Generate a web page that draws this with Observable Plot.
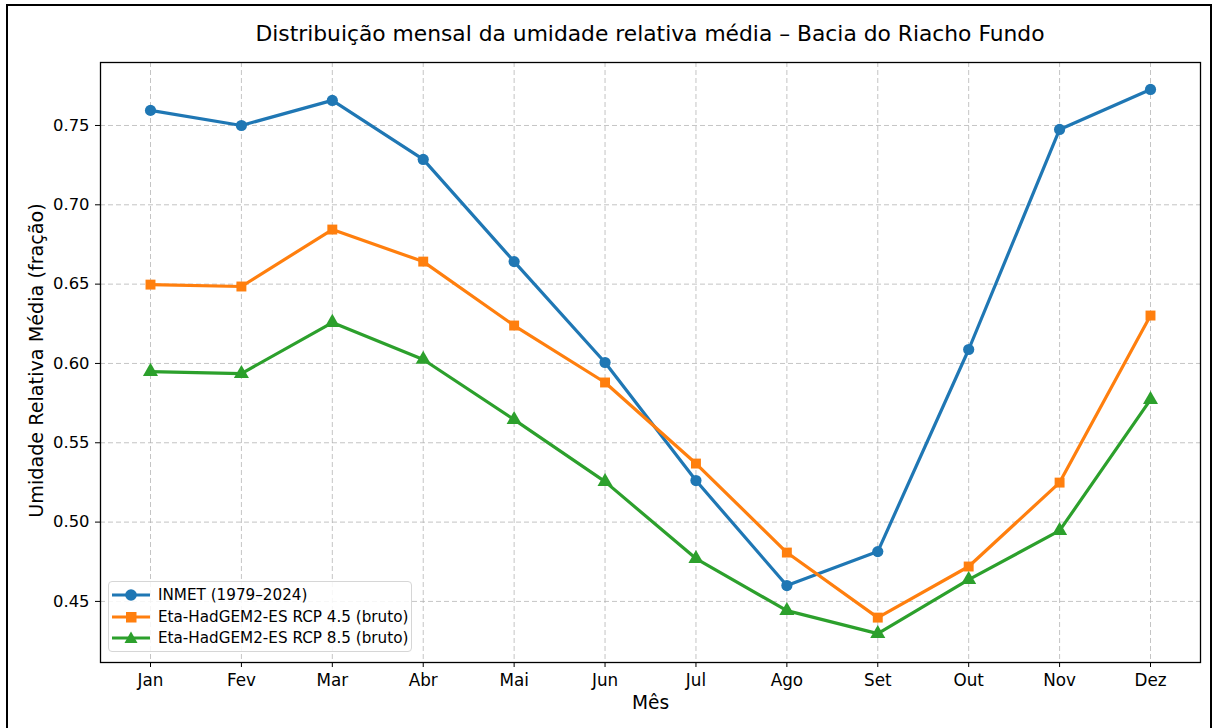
<!DOCTYPE html>
<html>
<head>
<meta charset="utf-8">
<script src="https://cdn.jsdelivr.net/npm/d3@7"></script>
<script src="https://cdn.jsdelivr.net/npm/@observablehq/plot@0.6"></script>
<style>
  html, body { margin: 0; padding: 0; background: #fff; }
  #fig { position: relative; width: 1220px; height: 728px; overflow: hidden; font-family: "DejaVu Sans", sans-serif; }
  #border { position: absolute; left: 6px; top: 4px; width: 1206px; height: 726px; border: 2px solid #000; box-sizing: border-box; pointer-events: none; }
  #title { position: absolute; left: 0; top: 21px; width: 1300px; text-align: center; font-size: 21.8px; color: #000; line-height: 26px; }
  #chart { position: absolute; left: 0; top: 0; }
  #legend { position: absolute; left: 108px; top: 581px; width: 304px; height: 71px; border: 1px solid #d6d6d6; border-radius: 4px; background: rgba(255,255,255,0.85); box-sizing: border-box; }
  .row { position: absolute; left: 3px; height: 20px; display: flex; align-items: center; font-size: 15.2px; color: #000; }
  .row svg { margin-right: 8px; }
</style>
</head>
<body>
<div id="fig">
  <div id="chart"></div>
  <div id="title">Distribuição mensal da umidade relativa média – Bacia do Riacho Fundo</div>
  <div id="legend"></div>
  <div id="border"></div>
</div>
<script>
const months = ["Jan","Fev","Mar","Abr","Mai","Jun","Jul","Ago","Set","Out","Nov","Dez"];
const seriesNames = ["INMET (1979–2024)", "Eta-HadGEM2-ES RCP 4.5 (bruto)", "Eta-HadGEM2-ES RCP 8.5 (bruto)"];
const inmet = [0.7595, 0.7500, 0.7658, 0.7286, 0.6642, 0.6006, 0.5262, 0.4600, 0.4814, 0.6088, 0.7475, 0.7727];
const rcp45 = [0.6497, 0.6485, 0.6844, 0.6642, 0.6239, 0.5880, 0.5369, 0.4808, 0.4398, 0.4720, 0.5249, 0.6302];
const rcp85 = [0.5949, 0.5936, 0.6258, 0.6025, 0.5646, 0.5255, 0.4770, 0.4442, 0.4297, 0.4637, 0.4946, 0.5772];
const yTicks = [0.45, 0.50, 0.55, 0.60, 0.65, 0.70, 0.75];
const colors = ["#1f77b4", "#ff7f0e", "#2ca02c"];
const symbols = ["circle", "square", "triangle"];

const allSeries = [inmet, rcp45, rcp85];
const data = allSeries.flatMap((vals, si) => vals.map((v, i) => ({mes: months[i], valor: v, serie: seriesNames[si]})));

const chart = Plot.plot({
  width: 1220,
  height: 728,
  marginLeft: 100,
  marginRight: 20,
  marginTop: 62,
  marginBottom: 66,
  style: {fontFamily: "DejaVu Sans, sans-serif", fontSize: "16px", color: "#000", background: "transparent"},
  x: {type: "point", domain: months, padding: 0.55, round: false, label: null},
  y: {domain: [0.4115, 0.7897], label: null},
  color: {domain: seriesNames, range: colors},
  symbol: {domain: seriesNames, range: symbols},
  marks: [
    Plot.gridX(months, {stroke: "#b0b0b0", strokeOpacity: 0.75, strokeDasharray: "5,3"}),
    Plot.gridY(yTicks, {stroke: "#b0b0b0", strokeOpacity: 0.75, strokeDasharray: "5,3"}),
    Plot.axisX(months, {tickSize: 5, tickPadding: 7, fontSize: 16.8, label: null}),
    Plot.axisY(yTicks, {tickSize: 5, tickPadding: 6, fontSize: 16.4, tickFormat: d3.format(".2f"), label: null}),
    Plot.line(data, {x: "mes", y: "valor", z: "serie", stroke: "serie", strokeWidth: 3.2}),
    Plot.dot(data, {x: "mes", y: "valor", fill: "serie", symbol: "serie", r: 5.6, stroke: null}),
    Plot.frame({stroke: "#000", strokeWidth: 1.3}),
    Plot.text(["Mês"], {frameAnchor: "bottom", dy: 41, fontSize: 18.6, lineAnchor: "middle", textAnchor: "middle"}),
    Plot.text(["Umidade Relativa Média (fração)"], {frameAnchor: "left", dx: -64, dy: -2, rotate: -90, fontSize: 19.2, textAnchor: "middle", lineAnchor: "middle"})
  ]
});
document.getElementById("chart").appendChild(chart);

const legend = document.getElementById("legend");
const markerSvg = (i) => {
  const c = colors[i];
  let m = "";
  if (i === 0) m = `<circle cx="19" cy="10" r="5.8" fill="${c}"/>`;
  else if (i === 1) m = `<rect x="14" y="5" width="10.5" height="10.5" fill="${c}"/>`;
  else m = `<polygon points="19,3.5 25.5,15 12.5,15" fill="${c}"/>`;
  return `<svg width="38" height="20"><line x1="0" y1="10" x2="38" y2="10" stroke="${c}" stroke-width="3.2"/>${m}</svg>`;
};
seriesNames.forEach((name, i) => {
  const row = document.createElement("div");
  row.className = "row";
  row.style.top = (3 + i * 21.7) + "px";
  row.innerHTML = markerSvg(i) + `<span>${name}</span>`;
  legend.appendChild(row);
});
</script>
</body>
</html>
